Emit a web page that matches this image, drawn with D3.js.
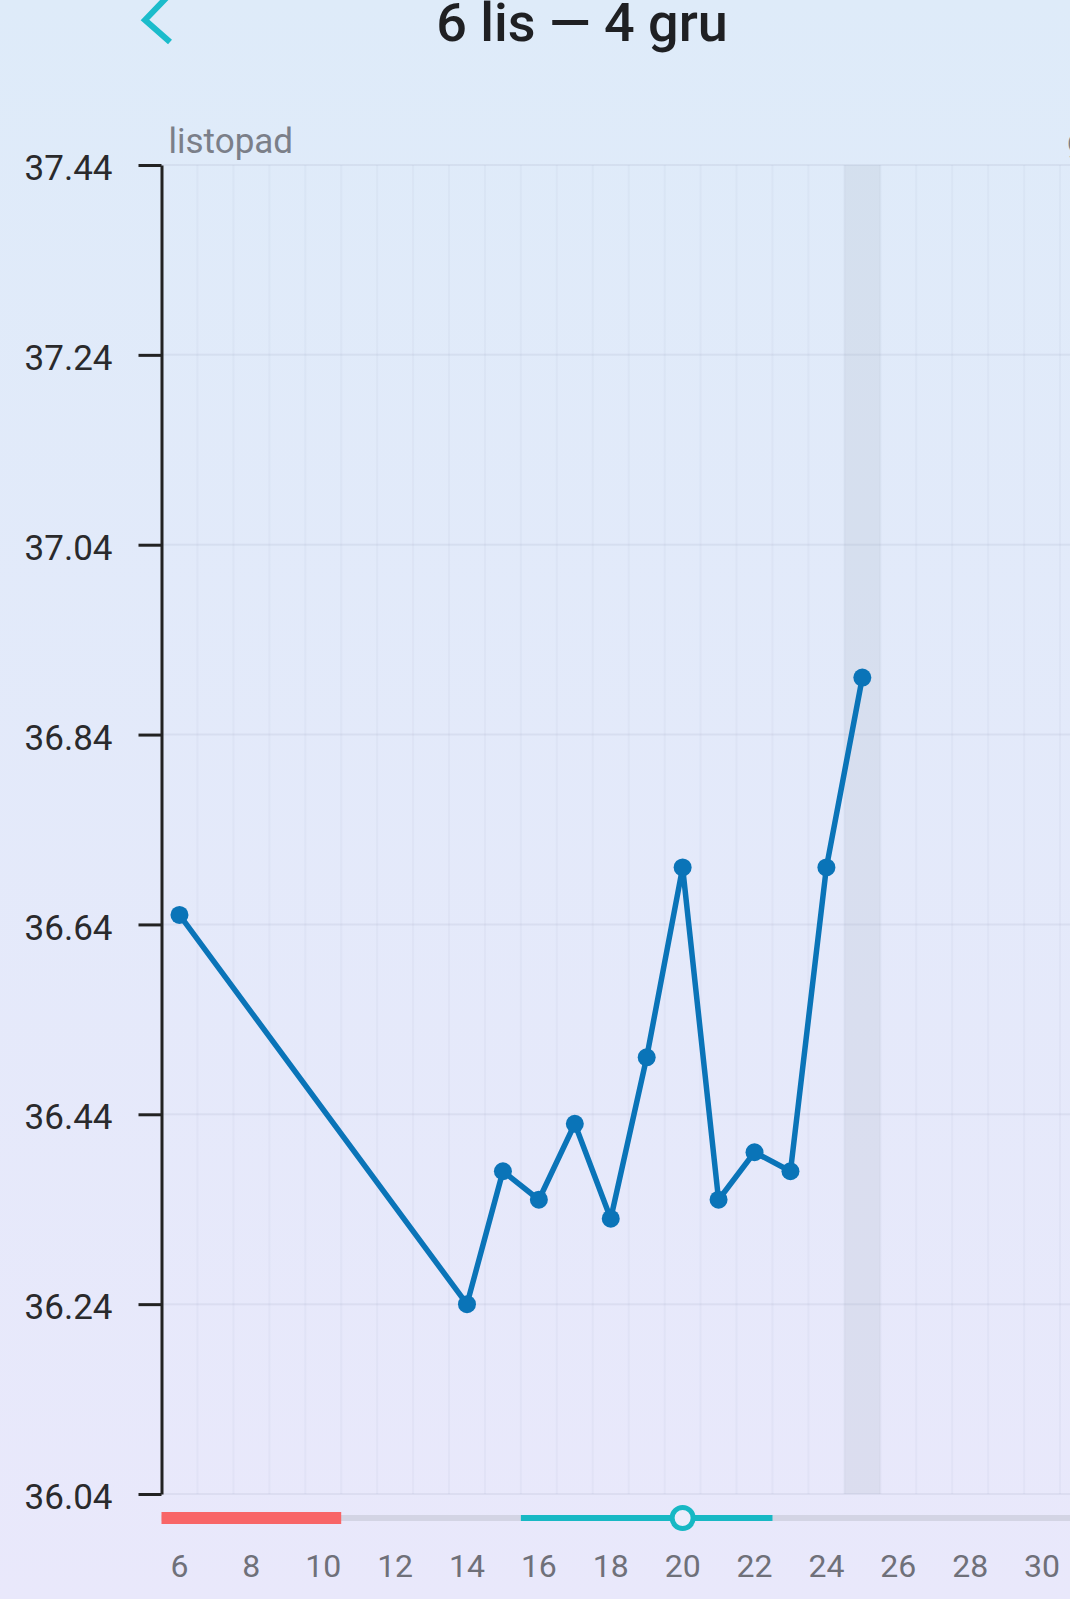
<!DOCTYPE html>
<html>
<head>
<meta charset="utf-8">
<script src="https://cdn.jsdelivr.net/npm/d3@7"></script>
<style>
  html, body { margin: 0; padding: 0; }
  body { width: 1070px; height: 1599px; overflow: hidden; font-family: Roboto, "Noto Sans", sans-serif; }
</style>
</head>
<body>
<div id="chart"></div>
<script>
// days shown on the chart (6 lis .. 4 gru)
const days = [6, 7, 8, 9, 10, 11, 12, 13, 14, 15, 16, 17, 18, 19, 20,
              21, 22, 23, 24, 25, 26, 27, 28, 29, 30, 1, 2, 3, 4];
const months = ["listopad", "grudzień"];
const monthStart = [0, 25];          // index in days where each month starts

// temperature readings, null = no reading
const temps = [36.65, null, null, null, null, null, null, null, 36.24, 36.38, 36.35, 36.43, 36.33, 36.50, 36.70,
               36.35, 36.40, 36.38, 36.70, 36.90, null, null, null, null, null, null, null, null, null];

const yTicks = [37.44, 37.24, 37.04, 36.84, 36.64, 36.44, 36.24, 36.04];
const xLabels = [6, 8, 10, 12, 14, 16, 18, 20, 22, 24, 26, 28, 30];

const periodDays = [6, 7, 8, 9, 10];
const fertileDays = [16, 17, 18, 19, 20, 21, 22];
const ovulationDay = 20;
const todayIdx = 19;                  // highlighted column (25 lis)

const W = 1070, H = 1599;
const plotLeft = 161.5, plotTop = 165, plotBottom = 1494, dayW = 35.94;

var svg = d3.select("#chart").append("svg")
    .attr("width", W)
    .attr("height", H);

//background gradient
var defs = svg.append("defs");
var grad = defs.append("linearGradient").attr("id", "bg")
    .attr("x1", 0).attr("y1", 0).attr("x2", 0).attr("y2", 1);
grad.append("stop").attr("offset", "0%").attr("stop-color", "#deebf9");
grad.append("stop").attr("offset", "100%").attr("stop-color", "#e9e8fb");
svg.append("rect").attr("width", W).attr("height", H).attr("fill", "url(#bg)");

var idx = d3.range(days.length);

var x = d3.scaleBand()
    .domain(idx)
    .range([plotLeft, plotLeft + days.length * dayW]);

var y = d3.scaleLinear()
    .domain([36.04, 37.44])
    .range([plotBottom, plotTop]);

//highlighted column
svg.append("rect")
    .attr("x", x(todayIdx))
    .attr("y", plotTop)
    .attr("width", x.bandwidth())
    .attr("height", plotBottom - plotTop)
    .attr("fill", "rgba(170,180,195,0.2)");

//vertical grid at day boundaries
svg.append("g")
    .selectAll("line")
    .data(idx.slice(1))
    .enter()
    .append("line")
        .attr("x1", d => x(d))
        .attr("x2", d => x(d))
        .attr("y1", plotTop)
        .attr("y2", plotBottom)
        .attr("stroke", "rgba(150,165,195,0.08)")
        .attr("stroke-width", 2);

//horizontal grid
svg.append("g")
    .selectAll("line")
    .data(yTicks)
    .enter()
    .append("line")
        .attr("x1", plotLeft)
        .attr("x2", W)
        .attr("y1", d => y(d))
        .attr("y2", d => y(d))
        .attr("stroke", "rgba(140,150,180,0.13)")
        .attr("stroke-width", 2);

//y axis
var yAxis = svg.append("g")
    .attr("transform", "translate(" + plotLeft + ",0)")
    .call(d3.axisLeft(y).tickValues(yTicks).tickSize(23).tickSizeOuter(0).tickPadding(26)
        .tickFormat(d3.format(".2f")));
yAxis.select(".domain").attr("stroke", "#222").attr("stroke-width", 3);
yAxis.selectAll(".tick line").attr("stroke", "#222").attr("stroke-width", 3);
yAxis.selectAll(".tick text")
    .attr("fill", "#2a2a2c")
    .attr("dy", "0.42em")
    .style("font-family", "Roboto")
    .style("font-size", "35px");

//month labels
svg.append("g")
    .selectAll("text")
    .data(months)
    .enter()
    .append("text")
        .attr("x", (d, i) => x(monthStart[i]) + 7)
        .attr("y", 153)
        .attr("fill", "#7b7f89")
        .style("font-family", "Roboto")
        .style("font-size", "35px")
        .text(d => d);

//temperature line
var pts = idx.filter(i => temps[i] !== null);
var line = d3.line()
    .x(i => x(i) + x.bandwidth() / 2)
    .y(i => y(temps[i]));

svg.append("path")
    .datum(pts)
    .attr("d", line)
    .attr("fill", "none")
    .attr("stroke", "#0a74b8")
    .attr("stroke-width", 5.5)
    .attr("stroke-linejoin", "round");

svg.append("g")
    .selectAll("circle")
    .data(pts)
    .enter()
    .append("circle")
        .attr("cx", i => x(i) + x.bandwidth() / 2)
        .attr("cy", i => y(temps[i]))
        .attr("r", 9)
        .attr("fill", "#0a74b8");

//cycle bar under the chart
const barY = 1518;
svg.append("line")
    .attr("x1", plotLeft).attr("x2", W)
    .attr("y1", barY).attr("y2", barY)
    .attr("stroke", "#d3d4e4")
    .attr("stroke-width", 6);

var dayIdx = d => days.indexOf(d);

svg.append("rect")
    .attr("x", x(dayIdx(periodDays[0])))
    .attr("y", barY - 6)
    .attr("width", x(dayIdx(periodDays[periodDays.length - 1])) + x.bandwidth() - x(dayIdx(periodDays[0])))
    .attr("height", 12)
    .attr("fill", "#f86567");

svg.append("line")
    .attr("x1", x(dayIdx(fertileDays[0])))
    .attr("x2", x(dayIdx(fertileDays[fertileDays.length - 1])) + x.bandwidth())
    .attr("y1", barY).attr("y2", barY)
    .attr("stroke", "#17b8c4")
    .attr("stroke-width", 6);

svg.append("circle")
    .attr("cx", x(dayIdx(ovulationDay)) + x.bandwidth() / 2)
    .attr("cy", barY)
    .attr("r", 10.5)
    .attr("fill", "#ecedfb")
    .attr("stroke", "#17b8c4")
    .attr("stroke-width", 5);

//x labels
var xAxis = svg.append("g")
    .attr("transform", "translate(0,1554)")
    .call(d3.axisBottom(x)
        .tickValues(xLabels.map(dayIdx))
        .tickFormat(i => days[i])
        .tickSize(0)
        .tickPadding(0));
xAxis.select(".domain").remove();
xAxis.selectAll(".tick text")
    .attr("fill", "#6f7079")
    .attr("dy", "0.72em")
    .style("font-family", "Roboto")
    .style("font-size", "32px");

//header
svg.append("text")
    .attr("x", 582)
    .attr("y", 41)
    .attr("text-anchor", "middle")
    .attr("fill", "#1f2023")
    .style("font-family", "Roboto")
    .style("font-weight", 500)
    .style("font-size", "54px")
    .text("6 lis \u2014 4 gru");

svg.append("path")
    .attr("d", "M170,-6 L145,20 L170,42")
    .attr("fill", "none")
    .attr("stroke", "#1bbccb")
    .attr("stroke-width", 6);
</script>
</body>
</html>
